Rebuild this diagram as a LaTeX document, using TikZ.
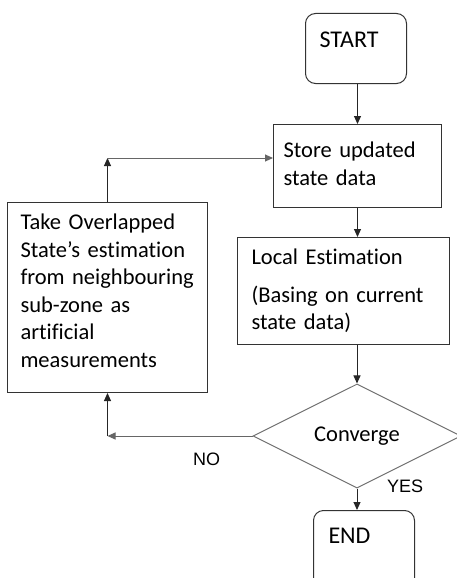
\documentclass[tikz,border=0pt]{standalone}
\usepackage{fontspec}
\setmainfont{Carlito}[Ligatures={NoCommon}]
\newfontfamily\labelfont{Liberation Sans}
\usetikzlibrary{shapes.geometric,arrows.meta}

\begin{document}
\begin{tikzpicture}[x=1pt,y=-1pt,
  body/.style={font=\fontsize{22.5}{27.5}\selectfont},
  term/.style={font=\fontsize{24}{29}\selectfont},
  procbox/.style={draw=black!80, line width=1pt, anchor=north west,
    inner ysep=0pt, align=left, body},
  termbox/.style={procbox, rounded corners=10pt, term},
  decision/.style={diamond, draw=black!55, line width=1pt, inner sep=0pt,
    minimum width=208pt, minimum height=86pt, body},
  arr/.style={draw=black!85, line width=1pt, -{Triangle[length=8pt,width=7pt]}},
  flow/.style={arr, draw=black!60},
  branch/.style={font=\labelfont\fontsize{18}{21}\selectfont, anchor=base west, inner sep=0pt}
]
\useasboundingbox (0,0) rectangle (456,578);

% terminals and process boxes
\node[termbox, inner xsep=14pt, text width=73pt, text height=34pt, text depth=36pt]
  (start) at (305,13) {START};
\node[procbox, inner xsep=10pt, text width=148pt, text height=33pt, text depth=50pt]
  (store) at (273,124) {Store updated\\state data};
\node[procbox, inner xsep=14pt, text width=184pt, text height=27pt, text depth=80pt]
  (local) at (237,237) {Local Estimation\\[10pt](Basing on current\\state data)};
\node[procbox, inner xsep=13pt, text width=174pt, text height=27pt, text depth=163pt]
  (take) at (7,202) {Take Overlapped\\State’s estimation\\from neighbouring\\sub-zone as\\artificial\\measurements};
\node[decision] (conv) at (357,436) {Converge};
\node[termbox, inner xsep=15pt, text width=71pt, text height=33pt, text depth=47pt]
  (end) at (313,510) {END};

% loop corners
\coordinate (lowcorner) at (take.south |- conv.west);
\coordinate (topcorner) at (take.north |- 0,158);

% main flow
\draw[arr] (store.north |- start.south) -- (store.north);
\draw[arr] (store.south) -- (store.south |- local.north);
\draw[arr] (conv.north |- local.south) -- (conv.north);
\draw[arr] (conv.south) -- (conv.south |- end.north);

% NO branch back to the store step
\draw[flow] (conv.west) -- (lowcorner);
\draw[arr] (lowcorner) -- (take.south);
\draw[arr] (take.north) -- (topcorner);
\draw[flow] (topcorner) -- (topcorner -| store.west);

% branch labels
\node[branch] (nolab) at (193,465) {NO};
\node[branch] (yeslab) at (387,492) {YES};
\end{tikzpicture}
\end{document}
